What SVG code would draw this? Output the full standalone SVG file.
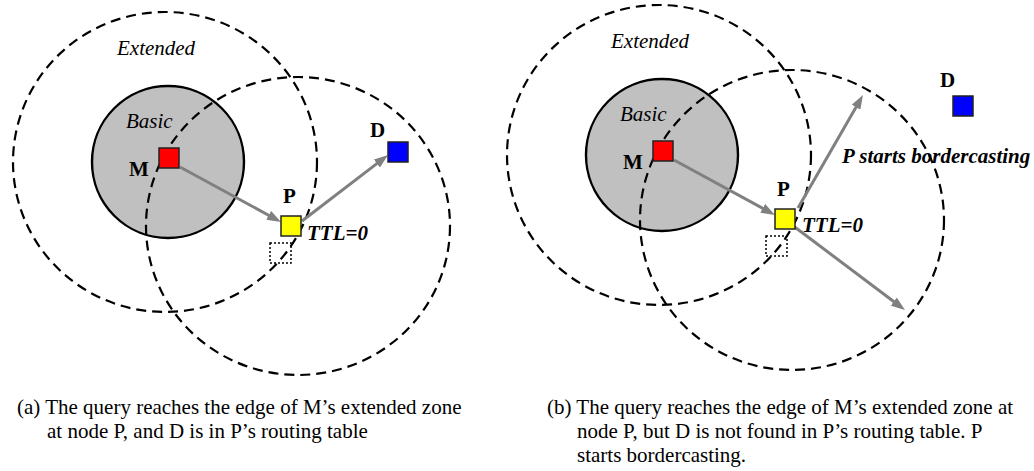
<svg xmlns="http://www.w3.org/2000/svg" width="1034" height="471" viewBox="0 0 1034 471">
<style>
.zone{fill:none;stroke:#000;stroke-width:2.2;stroke-dasharray:10,6}
.basic{fill:#c0c0c0;stroke:#000;stroke-width:2.4}
.arrow{stroke:#808080;stroke-width:3;fill:none;marker-end:url(#ah)}
.sq{stroke:#222;stroke-width:1.5}
.ghost{fill:none;stroke:#000;stroke-width:1.5;stroke-dasharray:2,2}
.lbl{font-family:"Liberation Serif","Times New Roman",serif;font-size:21px;fill:#000}
.it{font-style:italic}
.bd{font-weight:bold}
.cap{font-family:"Liberation Serif","Times New Roman",serif;font-size:21px;fill:#000}
</style>
<defs>
<marker id="ah" markerUnits="userSpaceOnUse" markerWidth="14" markerHeight="10" refX="4" refY="5" orient="auto">
<path d="M0,0 L14,5 L0,10 z" fill="#808080"/>
</marker>
</defs>
<g id="panel-a">
<g id="a-basic"><circle class="basic" cx="168" cy="162" r="76"/></g>
<g id="a-zone-m"><ellipse class="zone" cx="165" cy="162" rx="152" ry="150"/></g>
<g id="a-zone-p"><ellipse class="zone" cx="298" cy="226" rx="152" ry="149"/></g>
<g id="a-connectors">
<line class="arrow" x1="180" y1="167" x2="272.2" y2="217.2"/>
<line class="arrow" x1="302" y1="221" x2="380.1" y2="161.1"/>
</g>
<g id="a-node-m"><rect class="sq" x="159" y="148" width="20" height="20" fill="#ff0000"/><text class="lbl bd" x="129" y="176">M</text></g>
<g id="a-node-p"><rect class="sq" x="281" y="216" width="20" height="20" fill="#ffff00"/><text class="lbl bd" x="283" y="203">P</text><text class="lbl bd it" x="307" y="240">TTL=0</text></g>
<g id="a-node-d"><rect class="sq" x="388" y="142" width="20" height="20" fill="#0000ff"/><text class="lbl bd" x="370" y="137">D</text></g>
<g id="a-ghost"><rect class="ghost" x="270" y="243" width="21" height="20"/></g>
<text class="lbl it" x="117" y="55">Extended</text>
<text class="lbl it" x="126" y="128">Basic</text>
<text class="cap" x="17" y="414">(a) The query reaches the edge of M’s extended zone</text>
<text class="cap" x="47" y="438">at node P, and D is in P’s routing table</text>
</g>
<g id="panel-b">
<g id="b-basic"><circle class="basic" cx="662" cy="155" r="76"/></g>
<g id="b-zone-m"><ellipse class="zone" cx="659" cy="155" rx="152" ry="150"/></g>
<g id="b-zone-p"><ellipse class="zone" cx="792" cy="220" rx="152" ry="150"/></g>
<g id="b-connectors">
<line class="arrow" x1="674" y1="160" x2="766.2" y2="210.2"/>
<line class="arrow" x1="798" y1="208" x2="858" y2="103.7"/>
<line class="arrow" x1="792" y1="225" x2="897" y2="304"/>
</g>
<g id="b-node-m"><rect class="sq" x="653" y="141" width="20" height="20" fill="#ff0000"/><text class="lbl bd" x="623" y="169">M</text></g>
<g id="b-node-p"><rect class="sq" x="775" y="209" width="20" height="20" fill="#ffff00"/><text class="lbl bd" x="777" y="196">P</text><text class="lbl bd it" x="802" y="232">TTL=0</text></g>
<g id="b-node-d"><rect class="sq" x="953" y="96" width="20" height="20" fill="#0000ff"/><text class="lbl bd" x="940" y="87">D</text></g>
<g id="b-ghost"><rect class="ghost" x="766" y="236" width="21" height="20"/></g>
<text class="lbl it" x="611" y="48">Extended</text>
<text class="lbl it" x="620" y="121">Basic</text>
<text class="lbl bd it" x="842" y="163">P starts bordercasting</text>
<text class="cap" x="547" y="414">(b) The query reaches the edge of M’s extended zone at</text>
<text class="cap" x="577" y="438">node P, but D is not found in P’s routing table. P</text>
<text class="cap" x="577" y="462">starts bordercasting.</text>
</g>
</svg>
